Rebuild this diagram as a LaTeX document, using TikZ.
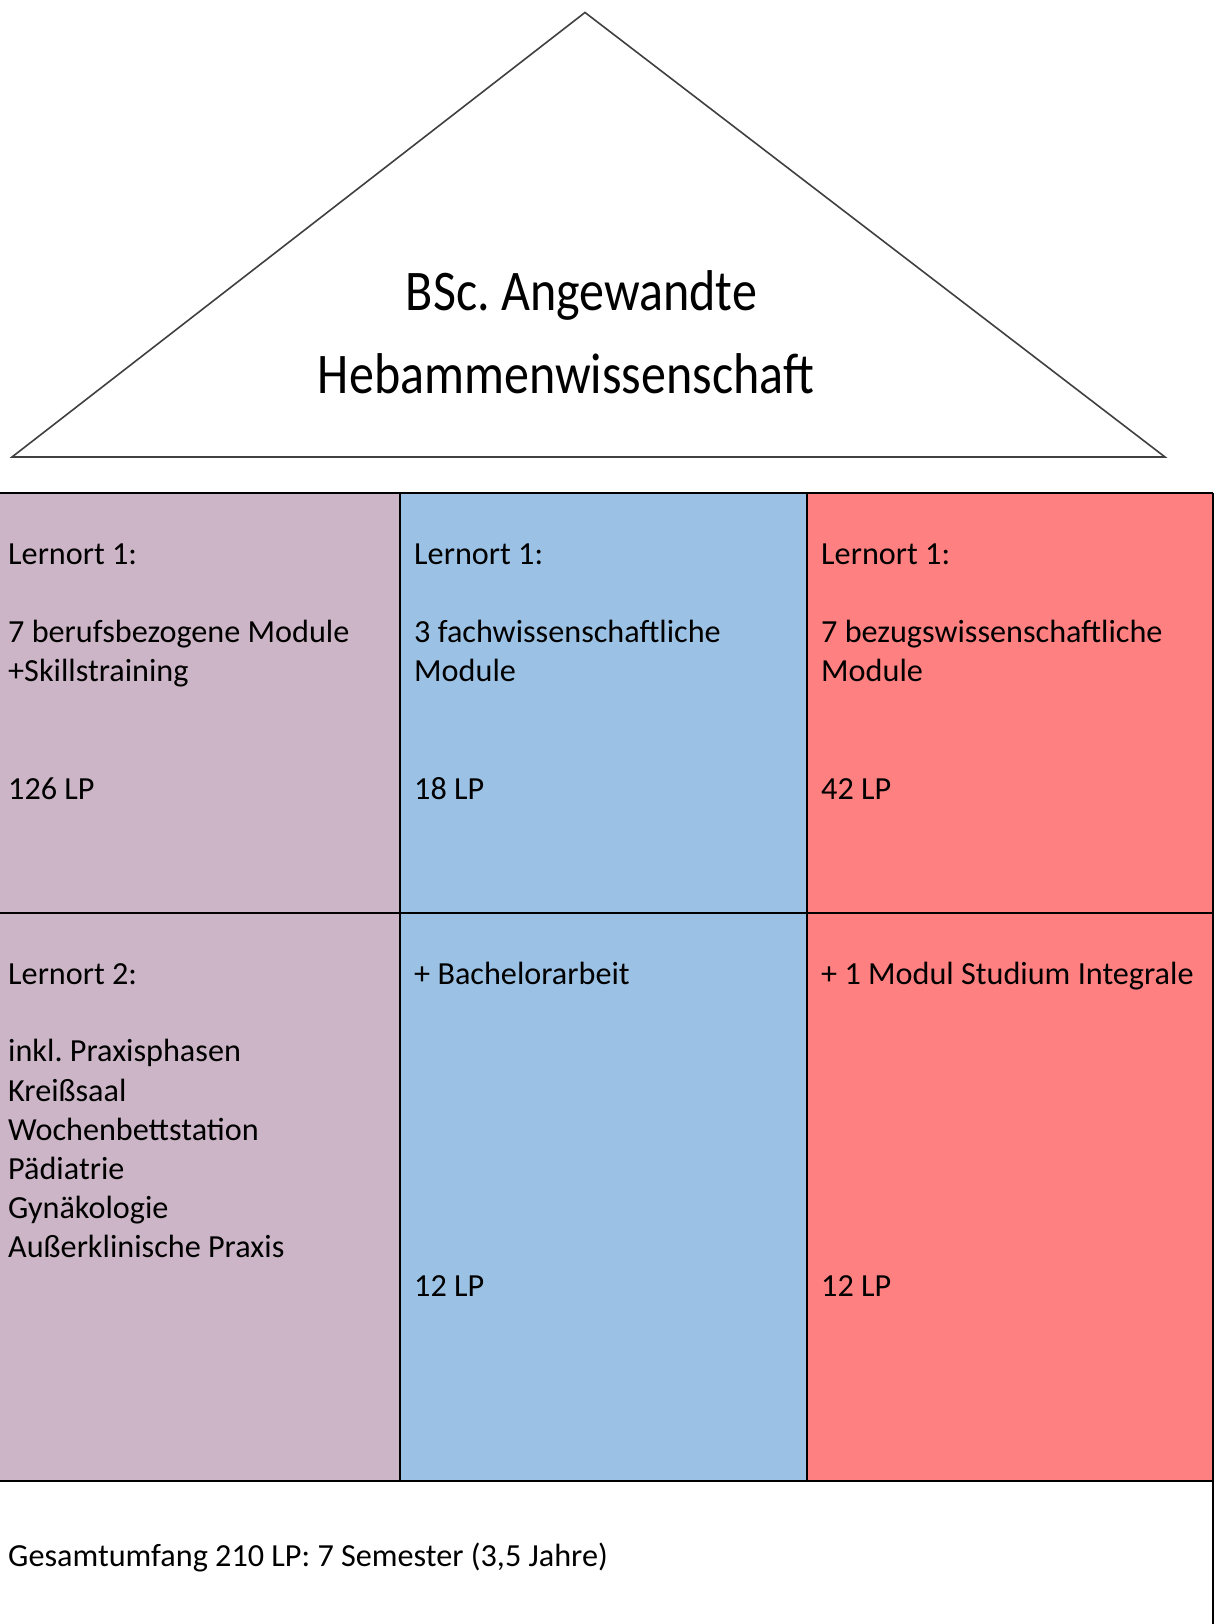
\documentclass[tikz,border=0pt]{standalone}
\usepackage{fontspec}
\setmainfont{Carlito}
\frenchspacing
\definecolor{cpurple}{RGB}{204,181,198}
\definecolor{cblue}{RGB}{155,194,229}
\definecolor{cred}{RGB}{255,128,128}
\definecolor{roofline}{RGB}{64,64,64}
\newcommand{\narrowtitle}[1]{\scalebox{0.87}[1]{#1}}
\begin{document}
\begin{tikzpicture}[x=1pt,y=-1pt,
  body/.style={anchor=base west,inner sep=0pt,font=\fontsize{32.2}{38}\selectfont},
  titletext/.style={anchor=base,inner sep=0pt,font=\fontsize{57.5}{70}\selectfont},
  grid/.style={line width=1.6pt,black}]
\useasboundingbox (0,0) rectangle (1214,1624);
\fill[white] (0,0) rectangle (1214,1624);
% roof
\coordinate (apex) at (585,12.5);
\coordinate (bl) at (12,457);
\coordinate (br) at (1165,457);
\draw[roofline,line width=1.6pt,line join=miter] (bl) -- (apex) -- (br) -- cycle;
\node[titletext] (t1) at (581.5,310) {\narrowtitle{BSc. Angewandte}};
\node[titletext] (t2) at (566,393) {\narrowtitle{Hebammenwissenschaft}};
% cells
\fill[cpurple] (0,493) rectangle (400,1481);
\fill[cblue] (400,493) rectangle (807,1481);
\fill[cred] (807,493) rectangle (1213,1481);
\draw[grid] (0,493) -- (1213,493);
\draw[grid] (0,913) -- (1213,913);
\draw[grid] (0,1481) -- (1213,1481);
\draw[grid] (400,493) -- (400,1481);
\draw[grid] (807,493) -- (807,1481);
\draw[grid] (1213,493) -- (1213,1624);
% column 1
\node[body] (a1) at (8,564) {Lernort 1:};
\node[body] (a2) at (8,642) {7 berufsbezogene Module};
\node[body] (a3) at (8,681) {+Skillstraining};
\node[body] (a4) at (8,799) {126 LP};
\node[body] (a5) at (8,984) {Lernort 2:};
\node[body] (a6) at (8,1061) {inkl. Praxisphasen};
\node[body] (a7) at (8,1101) {Kreißsaal};
\node[body] (a8) at (8,1140) {Wochenbettstation};
\node[body] (a9) at (8,1179) {Pädiatrie};
\node[body] (a10) at (8,1218) {Gynäkologie};
\node[body] (a11) at (8,1257) {Außerklinische Praxis};
% column 2
\node[body] (b1) at (414,564) {Lernort 1:};
\node[body] (b2) at (414,642) {3 fachwissenschaftliche};
\node[body] (b3) at (414,681) {Module};
\node[body] (b4) at (414,799) {18 LP};
\node[body] (b5) at (414,984) {+ Bachelorarbeit};
\node[body] (b6) at (414,1296) {12 LP};
% column 3
\node[body] (c1) at (821,564) {Lernort 1:};
\node[body] (c2) at (821,642) {7 bezugswissenschaftliche};
\node[body] (c3) at (821,681) {Module};
\node[body] (c4) at (821,799) {42 LP};
\node[body] (c5) at (821,984) {+ 1 Modul Studium Integrale};
\node[body] (c6) at (821,1296) {12 LP};
% footer
\node[body] (f1) at (8,1566) {Gesamtumfang 210 LP: 7 Semester (3,5 Jahre)};
\end{tikzpicture}
\end{document}
